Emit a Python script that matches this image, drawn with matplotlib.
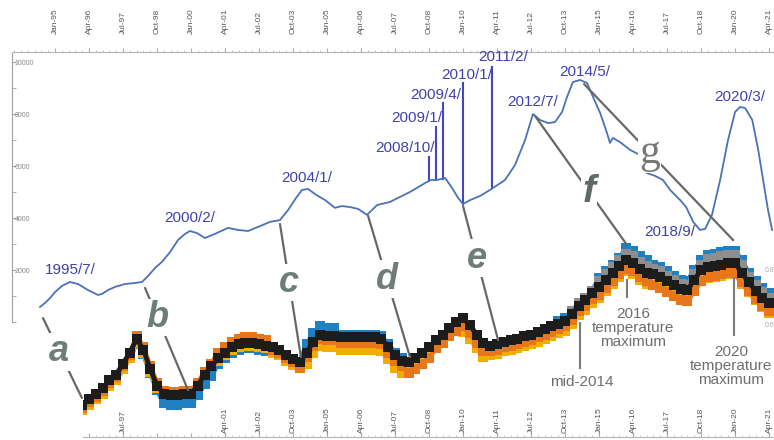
import numpy as np
import matplotlib
matplotlib.use("Agg")
import matplotlib.pyplot as plt
from matplotlib import font_manager
from matplotlib.patches import ConnectionPatch
from matplotlib.ticker import MultipleLocator
from matplotlib.transforms import blended_transform_factory, IdentityTransform

# ---------------- upper panel: index level ----------------
index_years = [1994.45, 1994.63, 1994.82, 1995.00, 1995.26, 1995.55, 1995.85, 1996.21,
               1996.58, 1996.73, 1996.95, 1997.21, 1997.57, 1997.94, 1998.20, 1998.42,
               1998.68, 1998.93, 1999.23, 1999.52, 1999.78, 1999.96, 2000.22, 2000.51,
               2000.88, 2001.36, 2001.73, 2002.10, 2002.54, 2002.90, 2003.27, 2003.57,
               2003.86, 2004.08, 2004.30, 2004.60, 2004.93, 2005.29, 2005.55, 2005.85,
               2006.14, 2006.47, 2006.84, 2007.32, 2007.68, 2008.05, 2008.42, 2008.79,
               2009.04, 2009.34, 2009.60, 2009.82, 2010.00, 2010.26, 2010.63, 2010.99,
               2011.21, 2011.54, 2011.91, 2012.28, 2012.57, 2012.83, 2013.13, 2013.38,
               2013.64, 2013.82, 2014.04, 2014.30, 2014.56, 2014.78, 2015.04, 2015.29,
               2015.40, 2015.51, 2015.77, 2016.14, 2016.51, 2016.76, 2017.06, 2017.35,
               2017.61, 2017.98, 2018.20, 2018.46, 2018.71, 2018.90, 2019.15, 2019.45,
               2019.74, 2020.00, 2020.18, 2020.37, 2020.63, 2020.85, 2021.03, 2021.21,
               2021.36]
index_values = [580, 730, 920, 1150, 1390, 1540, 1460, 1230,
                1040, 1080, 1230, 1350, 1460, 1500, 1540, 1770,
                2080, 2310, 2690, 3150, 3390, 3500, 3420, 3230,
                3390, 3620, 3540, 3500, 3690, 3850, 3920, 4310,
                4770, 5080, 5120, 4890, 4690, 4390, 4460, 4420,
                4350, 4120, 4500, 4620, 4810, 5000, 5230, 5460,
                5460, 5540, 5150, 4770, 4540, 4690, 4850, 5080,
                5230, 5460, 6040, 7000, 8000, 7770, 7650, 7690,
                8080, 8650, 9230, 9310, 9190, 8650, 8040, 7270,
                6890, 7080, 6920, 6620, 6420, 5730, 5620, 5460,
                5080, 4690, 4420, 3850, 3540, 3580, 4120, 5460,
                7000, 8080, 8270, 8230, 7770, 6620, 5460, 4310,
                3540]

peak_labels = ['1995/7/', '2000/2/', '2004/1/', '2012/7/', '2014/5/', '2018/9/', '2020/3/']
peak_text_x = [1995.55, 1999.96, 2004.26, 2012.57, 2014.49, 2017.60, 2020.18]
peak_text_y = [2000, 4000, 5540, 8460, 9620, 3460, 8650]

event_labels = ['2008/10/', '2009/1/', '2009/4/', '2010/1/', '2011/2/']
event_dates = [2008.75, 2009.0, 2009.25, 2010.0, 2011.08]
event_line_top = [6350, 7500, 8420, 9190, 9810]
event_text_x = [2007.87, 2008.31, 2009.01, 2010.15, 2011.47]
event_text_y = [6690, 7850, 8730, 9500, 10190]

# ---------------- lower panel: temperature, quarterly ----------------
temp_years = np.arange(1996.0, 2021.3, 0.25)
temp_black = [0.31, 0.33, 0.35, 0.37, 0.40, 0.42, 0.46, 0.50, 0.55, 0.51, 0.44, 0.38,
              0.35, 0.345, 0.345, 0.35, 0.35, 0.38, 0.42, 0.45, 0.48, 0.50, 0.52, 0.53,
              0.535, 0.535, 0.53, 0.525, 0.52, 0.51, 0.49, 0.475, 0.465, 0.50, 0.54, 0.565,
              0.56, 0.56, 0.555, 0.555, 0.555, 0.555, 0.555, 0.555, 0.55, 0.52, 0.49, 0.47,
              0.465, 0.48, 0.50, 0.52, 0.545, 0.565, 0.59, 0.61, 0.625, 0.60, 0.565, 0.535,
              0.525, 0.53, 0.54, 0.545, 0.55, 0.56, 0.565, 0.575, 0.585, 0.595, 0.605, 0.615,
              0.64, 0.67, 0.69, 0.715, 0.74, 0.765, 0.79, 0.815, 0.835, 0.825, 0.805, 0.79,
              0.785, 0.775, 0.76, 0.745, 0.73, 0.727, 0.765, 0.80, 0.81, 0.815, 0.82, 0.825,
              0.825, 0.79, 0.755, 0.725, 0.70, 0.68]
temp_blue = [0.29, 0.31, 0.33, 0.35, 0.38, 0.40, 0.44, 0.48, 0.535, 0.495, 0.425, 0.365,
             0.315, 0.31, 0.31, 0.315, 0.315, 0.345, 0.385, 0.415, 0.46, 0.48, 0.50, 0.51,
             0.515, 0.515, 0.51, 0.505, 0.50, 0.49, 0.47, 0.455, 0.465, 0.53, 0.57, 0.595,
             0.59, 0.59, 0.565, 0.565, 0.565, 0.565, 0.565, 0.565, 0.56, 0.53, 0.50, 0.48,
             0.465, 0.48, 0.50, 0.52, 0.545, 0.565, 0.59, 0.61, 0.625, 0.60, 0.565, 0.535,
             0.525, 0.53, 0.54, 0.545, 0.55, 0.56, 0.565, 0.575, 0.585, 0.595, 0.615, 0.625,
             0.65, 0.68, 0.70, 0.725, 0.77, 0.795, 0.82, 0.845, 0.88, 0.87, 0.85, 0.835,
             0.82, 0.81, 0.795, 0.78, 0.765, 0.762, 0.80, 0.835, 0.855, 0.86, 0.865, 0.87,
             0.87, 0.835, 0.79, 0.76, 0.735, 0.715]
temp_orange = [0.30, 0.32, 0.34, 0.36, 0.39, 0.41, 0.45, 0.49, 0.56, 0.52, 0.45, 0.39,
               0.36, 0.355, 0.355, 0.36, 0.36, 0.39, 0.43, 0.46, 0.50, 0.52, 0.54, 0.55,
               0.555, 0.555, 0.55, 0.545, 0.51, 0.50, 0.48, 0.465, 0.445, 0.485, 0.525, 0.55,
               0.545, 0.545, 0.535, 0.535, 0.535, 0.535, 0.535, 0.535, 0.53, 0.50, 0.47, 0.45,
               0.425, 0.44, 0.46, 0.48, 0.515, 0.535, 0.56, 0.58, 0.595, 0.57, 0.535, 0.505,
               0.505, 0.51, 0.52, 0.525, 0.53, 0.54, 0.545, 0.555, 0.565, 0.575, 0.585, 0.595,
               0.62, 0.65, 0.67, 0.695, 0.71, 0.735, 0.76, 0.785, 0.805, 0.795, 0.775, 0.76,
               0.745, 0.735, 0.72, 0.705, 0.69, 0.687, 0.725, 0.76, 0.775, 0.78, 0.785, 0.79,
               0.79, 0.755, 0.725, 0.695, 0.67, 0.65]
temp_yellow = [0.29, 0.31, 0.33, 0.35, 0.38, 0.40, 0.44, 0.48, 0.54, 0.50, 0.43, 0.37,
               0.35, 0.345, 0.345, 0.35, 0.35, 0.38, 0.42, 0.45, 0.47, 0.49, 0.51, 0.52,
               0.525, 0.525, 0.52, 0.515, 0.50, 0.49, 0.47, 0.455, 0.455, 0.46, 0.50, 0.525,
               0.52, 0.52, 0.51, 0.51, 0.51, 0.51, 0.51, 0.51, 0.505, 0.475, 0.445, 0.425,
               0.435, 0.45, 0.47, 0.49, 0.515, 0.535, 0.56, 0.58, 0.575, 0.55, 0.515, 0.485,
               0.49, 0.495, 0.505, 0.51, 0.515, 0.525, 0.53, 0.54, 0.55, 0.56, 0.57, 0.58,
               0.605, 0.635, 0.655, 0.68, 0.70, 0.725, 0.75, 0.775, 0.795, 0.785, 0.765, 0.75,
               0.755, 0.745, 0.73, 0.715, 0.70, 0.697, 0.735, 0.77, 0.77, 0.775, 0.78, 0.785,
               0.785, 0.75, 0.72, 0.69, 0.665, 0.645]
grey_years = temp_years[72:]
temp_grey = [0.65, 0.68, 0.70, 0.725, 0.76, 0.785, 0.81, 0.835, 0.86, 0.85, 0.83, 0.815,
             0.805, 0.795, 0.78, 0.765, 0.75, 0.747, 0.785, 0.82, 0.84, 0.845, 0.85, 0.855,
             0.855, 0.82, 0.775, 0.745, 0.72, 0.70]

temp_notes = ['mid-2014', '2016\ntemperature\nmaximum', '2020\ntemperature\nmaximum']
temp_note_dates = [2014.3, 2016.03, 2019.95]
temp_note_line = [(0.607, 0.444), (0.764, 0.702), (0.771, 0.564)]
temp_note_text = [(2014.37, 0.393), (2016.25, 0.591), (2019.85, 0.453)]

# connectors from the index curve down to the temperature curves
conn_letters = ['a', 'b', 'c', 'd', 'e', 'f', 'g']
conn_top = [(1994.56, 150), (1998.31, 1310), (2003.27, 3770), (2006.51, 4080),
            (2010.0, 4460), (2012.65, 7920), (2014.45, 9150)]
conn_bottom = [(1995.99, 0.335), (1999.89, 0.364), (2004.04, 0.484), (2008.05, 0.484),
               (2011.29, 0.545), (2016.03, 0.891), (2019.93, 0.909)]
conn_frac = [0.42, 0.29, 0.44, 0.45, 0.39, 0.59, 0.44]

tick_years = np.arange(1995.0, 2021.3, 1.25)
top_tick_labels = ['Jan-95', 'Apr-96', 'Jul-97', 'Oct-98', 'Jan-00', 'Apr-01', 'Jul-02',
                   'Oct-03', 'Jan-05', 'Apr-06', 'Jul-07', 'Oct-08', 'Jan-10', 'Apr-11',
                   'Jul-12', 'Oct-13', 'Jan-15', 'Apr-16', 'Jul-17', 'Oct-18', 'Jan-20',
                   'Apr-21']
bottom_tick_labels = ['', '', 'Jul-97', '', '', 'Apr-01', 'Jul-02',
                      'Oct-03', 'Jan-05', 'Apr-06', 'Jul-07', 'Oct-08', 'Jan-10', 'Apr-11',
                      'Jul-12', 'Oct-13', 'Jan-15', 'Apr-16', 'Jul-17', 'Oct-18', 'Jan-20',
                      'Apr-21']

names = {f.name for f in font_manager.fontManager.ttflist}
narrow = 'Liberation Sans Narrow' if 'Liberation Sans Narrow' in names else 'Liberation Sans'
label_size = 13 if narrow == 'Liberation Sans Narrow' else 11
plt.rcParams['font.family'] = 'Liberation Sans'

W, H = 774, 440
fig = plt.figure(figsize=(W / 100, H / 100), dpi=100)


def px_axes(left, top, right, bottom):
    return fig.add_axes([left / W, 1 - bottom / H, (right - left) / W, (bottom - top) / H])


ax_low = px_axes(83, 200, 774, 437)
ax_top = px_axes(12, 52, 774, 322)
for ax in (ax_low, ax_top):
    ax.set_facecolor('none')

# ---- upper panel ----
ax_top.plot(index_years, index_values, color='#4a72b8', lw=1.3, zorder=3)

for s in ('right', 'bottom'):
    ax_top.spines[s].set_visible(False)
ax_top.spines['top'].set_color('#b5b5b5')
ax_top.spines['left'].set_color('#a0a0a0')
ax_top.xaxis.tick_top()
ax_top.set_xticks(tick_years, top_tick_labels, rotation=90)
ax_top.xaxis.set_minor_locator(MultipleLocator(0.25))
ax_top.tick_params(axis='x', which='major', direction='out', length=3, pad=10,
                   labelsize=6, labelcolor='#555555', color='#aaaaaa')
ax_top.tick_params(axis='x', which='minor', direction='out', length=1.5, color='#bbbbbb')
ax_top.set_yticks([0, 2000, 4000, 6000, 8000, 10000], ['', '2000', '4000', '6000', '8000', '10000'])
ax_top.yaxis.set_minor_locator(MultipleLocator(1000))
ax_top.tick_params(axis='y', which='both', direction='in', length=3, pad=-2,
                   labelsize=5, labelcolor='#888888', color='#a0a0a0')
for t in ax_top.get_yticklabels():
    t.set_ha('left')
ax_top.set_xlim(1993.42, 2021.43)
ax_top.set_ylim(0, 10385)

label_blue = '#4042aa'
for lab, x, y in zip(peak_labels, peak_text_x, peak_text_y):
    ax_top.text(x, y, lab, family=narrow, fontsize=label_size, color=label_blue,
                ha='center', va='center')
for lab, d, top, tx, ty in zip(event_labels, event_dates, event_line_top,
                               event_text_x, event_text_y):
    base = np.interp(d, index_years, index_values)
    ax_top.plot([d, d], [base, top], color='#4446c0', lw=1.5, zorder=2)
    ax_top.text(tx, ty, lab, family=narrow, fontsize=label_size, color=label_blue,
                ha='center', va='center')

# ---- lower panel ----
series = [(temp_years, temp_blue, '#1f80c4'),
          (grey_years, temp_grey, '#8e8e8e'),
          (temp_years, temp_yellow, '#f3ad00'),
          (temp_years, temp_orange, '#e8761a'),
          (temp_years, temp_black, '#1c1c1c')]
for xs, ys, col in series:
    ax_low.plot(xs, ys, color=col, lw=3.5, marker='s', ms=7, mew=0, zorder=3)

for s in ('top', 'left', 'right'):
    ax_low.spines[s].set_visible(False)
ax_low.spines['bottom'].set_color('#b5b5b5')
ax_low.set_xticks(tick_years, bottom_tick_labels, rotation=90)
ax_low.xaxis.set_minor_locator(MultipleLocator(0.25))
ax_low.tick_params(axis='x', which='major', direction='in', length=3, pad=-3,
                   labelsize=6, labelcolor='#555555', color='#aaaaaa')
ax_low.tick_params(axis='x', which='minor', direction='in', length=1.5, color='#bbbbbb')
for t in ax_low.get_xticklabels():
    t.set_va('bottom')
ax_low.set_yticks([])
# limits last, so the tick positions cannot widen them
ax_low.set_xlim(1996.03, 2021.43)
ax_low.set_ylim(0.193, 1.055)

edge = blended_transform_factory(ax_low.transAxes, ax_low.transData)
for v in (0.8, 0.6):
    ax_low.text(0.987, v, f'{v:.1f}', transform=edge, fontsize=5, color='#aaaaaa',
                ha='left', va='center')

note_grey = '#6e6e6e'
for note, d, (y0, y1), (tx, ty) in zip(temp_notes, temp_note_dates, temp_note_line, temp_note_text):
    ax_low.plot([d, d], [y0, y1], color='#7a7a7a', lw=1.5, zorder=4)
    ax_low.text(tx, ty, note, family=narrow, fontsize=label_size, color=note_grey,
                ha='center', va='center', linespacing=1.0, zorder=4)

# ---- connectors a-g ----
sans_letter = dict(family='Liberation Sans', weight='bold', style='italic', size=26, color='#6f7d7a')
letter_style = {'a': sans_letter, 'b': sans_letter, 'c': sans_letter, 'd': sans_letter,
                'e': sans_letter,
                'f': dict(family='Liberation Sans', weight='bold', style='italic', size=28, color='#5c6b63'),
                'g': dict(family='Liberation Serif', size=30, color='#777777')}
for letter, top, bot, t in zip(conn_letters, conn_top, conn_bottom, conn_frac):
    con = ConnectionPatch(xyA=top, coordsA=ax_top.transData, xyB=bot, coordsB=ax_low.transData,
                          color='#686868', lw=1.6, zorder=5)
    fig.add_artist(con)
    pa = ax_top.transData.transform(top)
    pb = ax_low.transData.transform(bot)
    pm = pa + t * (pb - pa)
    fig.text(pm[0], pm[1], letter, transform=IdentityTransform(), ha='center', va='center',
             bbox=dict(facecolor='white', edgecolor='none', pad=1), zorder=6,
             **letter_style[letter])

fig.savefig('out.png', dpi=100)
